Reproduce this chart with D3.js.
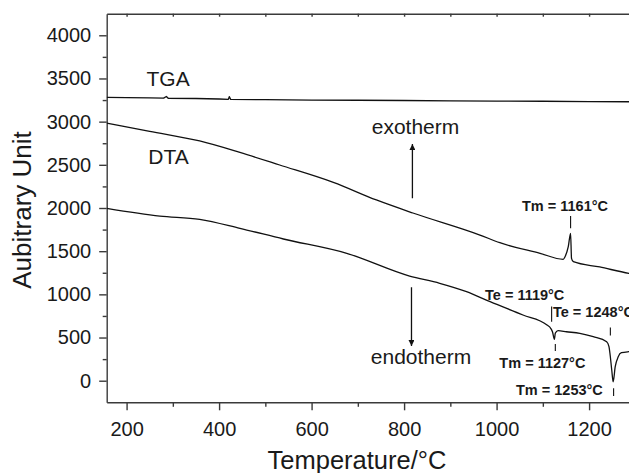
<!DOCTYPE html>
<html lang="en">
	<head>
		<meta charset="UTF-8">
		<title>TGA / DTA</title>
		<script src="https://d3js.org/d3.v7.min.js"></script>
		<style>
			body {
				margin: 0;
				background: white;
			}

			svg text {
				font-family: "Liberation Sans", Arial, sans-serif;
				fill: #1a1a1a;
			}

			.axis path, .axis line {
				stroke: #3a3a3a;
				stroke-width: 1.4;
			}

			.axis text {
				font-size: 20px;
			}

			.curve {
				fill: none;
				stroke: #111;
				stroke-width: 1.3;
				stroke-linejoin: round;
			}

			.marker {
				stroke: #111;
				stroke-width: 1.1;
			}

			.label {
				font-size: 21px;
			}

			.temp {
				font-size: 14.5px;
				font-weight: bold;
			}
		</style>
	</head>
	<body>
		<div id="chart"></div>
		<script>
			// temperature (°C), signal (arbitrary unit)
			const tga = [
				[157, 3280], [200, 3278], [250, 3276], [280, 3272], [286, 3292], [290, 3270],
				[350, 3268], [400, 3262], [420, 3258], [422, 3290], [425, 3258], [500, 3255],
				[600, 3250], [700, 3248], [800, 3245], [900, 3240], [1000, 3238], [1100, 3236],
				[1200, 3232], [1300, 3230]
			]
			const dtaUpper = [
				[157, 2984], [250, 2888], [358, 2776], [445, 2643], [531, 2498], [647, 2297],
				[740, 2093], [819, 1942], [964, 1687], [1007, 1598], [1094, 1475], [1144, 1406],
				[1148, 1436], [1155, 1552], [1160, 1707], [1162, 1417], [1166, 1378], [1223, 1317],
				[1286, 1244], [1300, 1232]
			]
			const dtaLower = [
				[157, 1996], [272, 1907], [358, 1869], [445, 1765], [539, 1641], [676, 1475],
				[812, 1212], [877, 1128], [935, 1031], [986, 915], [1057, 761], [1109, 645],
				[1117, 607], [1121, 564], [1125, 480], [1127, 552], [1133, 579], [1151, 567],
				[1180, 549], [1209, 510], [1238, 452], [1243, 394], [1245, 321], [1249, 124],
				[1252, -12], [1256.5, 162], [1263, 278], [1270, 324], [1286, 336], [1300, 340]
			]
			// short vertical marks at the characteristic temperatures
			const marks = [
				[1160, 1907, 1765], [1119, 860, 683], [1127, 425, 344], [1246, 616, 524], [1253, -88, -177]
			]
			const tempLabels = [
				["Tm = 1161°C", 1055, 1969], ["Te = 1119°C", 975, 929], ["Te = 1248°C", 1122, 738],
				["Tm = 1127°C", 1006, 144], ["Tm = 1253°C", 1042, -160]
			]
			const curveLabels = [
				["TGA", 243, 3413], ["DTA", 247, 2509], ["exotherm", 730, 2857], ["endotherm", 728, 194]
			]
			// [temperature, from, to]
			const arrows = [[818, 2112, 2741], [816, 1082, 402]]
			const xMajor = [200, 400, 600, 800, 1000, 1200]
			const xMinor = [300, 500, 700, 900, 1100, 1300]
			const xTop = [200, 300, 400, 500, 600, 700, 800, 900, 1000, 1100, 1200, 1300]
			const yMajor = [0, 500, 1000, 1500, 2000, 2500, 3000, 3500, 4000]
			const yMinor = [250, 750, 1250, 1750, 2250, 2750, 3250, 3750]

			const width = 629
			const height = 473
			const plotLeft = 106.7
			const plotTop = 13.7
			const plotBottom = 402.3

			const x = d3.scaleLinear().domain([157, 1300]).range([plotLeft, plotLeft + (1300 - 157) * 0.4625])
			const y = d3.scaleLinear().domain([-250, 4250]).range([plotBottom, plotTop])

			const svg = d3.select("#chart").append("svg")
				.attr("width", width)
				.attr("height", height)

			svg.append("defs").append("marker")
				.attr("id", "head")
				.attr("viewBox", "0 0 10 10")
				.attr("refX", 10)
				.attr("refY", 5)
				.attr("markerUnits", "userSpaceOnUse")
				.attr("markerWidth", 10)
				.attr("markerHeight", 6)
				.attr("orient", "auto")
				.append("path")
				.attr("d", "M0,0L10,5L0,10Z")
				.attr("fill", "#111")

			svg.append("clipPath").attr("id", "plot")
				.append("rect")
				.attr("x", plotLeft).attr("y", plotTop)
				.attr("width", width - plotLeft).attr("height", plotBottom - plotTop)

			// axes
			const fmt = d3.format("d")
			svg.append("g").classed("axis", true)
				.attr("transform", `translate(0,${plotBottom})`)
				.call(d3.axisBottom(x).tickValues(xMajor).tickFormat(fmt).tickSize(8).tickPadding(12).tickSizeOuter(0))
			svg.append("g").classed("axis", true)
				.attr("transform", `translate(0,${plotBottom})`)
				.call(d3.axisBottom(x).tickValues(xMinor).tickSize(4.5).tickFormat("").tickSizeOuter(0))
				.select(".domain").remove()
			svg.append("g").classed("axis", true)
				.attr("transform", `translate(0,${plotTop})`)
				.call(d3.axisBottom(x).tickValues(xTop).tickSize(3).tickFormat("").tickSizeOuter(0))
			svg.append("g").classed("axis", true)
				.attr("transform", `translate(${plotLeft},0)`)
				.call(d3.axisLeft(y).tickValues(yMajor).tickFormat(fmt).tickSize(7.5).tickPadding(8).tickSizeOuter(0))
			svg.append("g").classed("axis", true)
				.attr("transform", `translate(${plotLeft},0)`)
				.call(d3.axisLeft(y).tickValues(yMinor).tickSize(4).tickFormat("").tickSizeOuter(0))
				.select(".domain").remove()
			svg.selectAll(".axis text").attr("fill", "#1a1a1a")

			svg.append("text")
				.attr("x", 357)
				.attr("y", 469)
				.attr("text-anchor", "middle")
				.style("font-size", "25.5px")
				.text("Temperature/°C")
			svg.append("text")
				.attr("transform", "translate(31,210) rotate(-90)")
				.attr("text-anchor", "middle")
				.style("font-size", "26px")
				.text("Aubitrary Unit")

			// curves
			const line = d3.line().x(d => x(d[0])).y(d => y(d[1]))
			const smooth = d3.line().x(d => x(d[0])).y(d => y(d[1])).curve(d3.curveMonotoneX)
			const plot = svg.append("g").attr("clip-path", "url(#plot)")
			plot.append("path").classed("curve", true).attr("d", line(tga))
			plot.append("path").classed("curve", true).attr("d", smooth(dtaUpper))
			plot.append("path").classed("curve", true).attr("d", smooth(dtaLower))

			plot.selectAll(".marker")
				.data(marks)
				.join("line")
				.classed("marker", true)
				.attr("x1", d => x(d[0])).attr("x2", d => x(d[0]))
				.attr("y1", d => y(d[1])).attr("y2", d => y(d[2]))

			plot.selectAll(".arrow")
				.data(arrows)
				.join("line")
				.classed("arrow", true)
				.attr("stroke", "#111")
				.attr("stroke-width", 1.3)
				.attr("x1", d => x(d[0])).attr("x2", d => x(d[0]))
				.attr("y1", d => y(d[1])).attr("y2", d => y(d[2]))
				.attr("marker-end", "url(#head)")

			svg.selectAll(".label")
				.data(curveLabels)
				.join("text")
				.classed("label", true)
				.attr("x", d => x(d[1]))
				.attr("y", d => y(d[2]))
				.text(d => d[0])

			svg.selectAll(".temp")
				.data(tempLabels)
				.join("text")
				.classed("temp", true)
				.attr("x", d => x(d[1]))
				.attr("y", d => y(d[2]))
				.text(d => d[0])
		</script>
	</body>
</html>
